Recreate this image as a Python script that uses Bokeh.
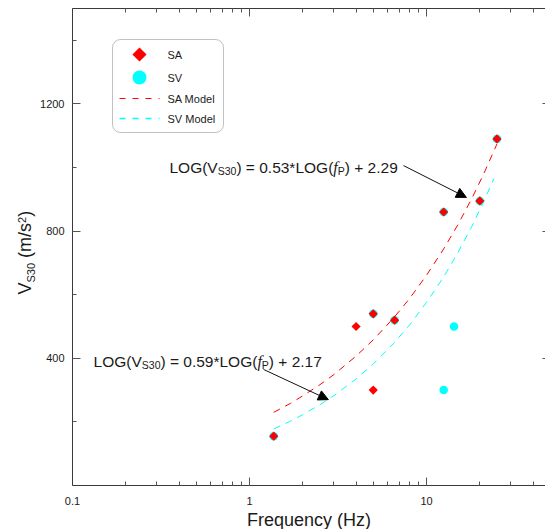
import math
from bokeh.plotting import figure
from bokeh.layouts import row
from bokeh.models import (Range1d, LinearScale, FixedTicker, LogAxis, LinearAxis, Label,
                          Arrow, NormalHead, BoxAnnotation)
from bokeh.embed import file_html
from bokeh.resources import INLINE

# ---------------- data ----------------
sa_freq = [1.37, 4.0, 5.0, 5.0, 6.6, 12.5, 20.0, 25.0]
sa_vs30 = [155, 500, 540, 300, 520, 860, 895, 1090]
sv_freq = [1.37, 5.0, 6.6, 12.5, 12.5, 14.3, 20.0, 25.0]
sv_vs30 = [155, 540, 520, 860, 300, 500, 895, 1090]

sa_model_freq = [1.37, 1.7, 2, 2.5, 3, 4, 5, 6.5, 8, 10, 12.5, 15, 18, 21, 25]
sa_model_vs30 = [230, 258, 282, 317, 349, 407, 458, 526, 587, 661, 744, 819, 902, 979, 1074]
sv_model_freq = [1.37, 1.7, 2, 2.5, 3, 4, 5, 6.5, 8, 10, 12.5, 15, 18, 21, 24]
sv_model_vs30 = [178, 202, 223, 254, 283, 335, 382, 446, 504, 576, 656, 731, 814, 892, 965]

x_major = [0.1, 1, 10]
x_tick_labels = ["0.1", "1", "10"]
x_minor = [0.2, 0.3, 0.4, 0.5, 0.6, 0.7, 0.8, 0.9, 2, 3, 4, 5, 6, 7, 8, 9, 20, 30, 40]
y_major = [400, 800, 1200]
y_minor = [200, 600, 1000, 1400]

legend_names = ["SA", "SV", "SA Model", "SV Model"]

# ---------------- styling ----------------
FONT = "Liberation Sans"
SERIF = "Liberation Serif"
RED = "#ff0000"
CYAN = "#00ffff"
AXC = "#3a3a3a"
TXT = "#1a1a1a"

TW = 36               # width of the strip holding the y-axis title
FW, FH = 473, 477     # plotting frame
TOTAL_H = 529

p = figure(x_axis_type="log", x_range=Range1d(0.1, 47), y_range=Range1d(0, 1500),
           frame_width=FW, frame_height=FH, output_backend="svg", toolbar_location=None,
           min_border_left=72 - TW, min_border_right=0, min_border_top=8, min_border_bottom=44,
           background_fill_color="white", border_fill_color="white", outline_line_color=None)
p.xgrid.visible = False
p.ygrid.visible = False

# pixel-like coordinate system over the frame (for the legend)
p.extra_x_ranges = {"px": Range1d(0, FW)}
p.extra_y_ranges = {"py": Range1d(0, FH)}
p.extra_x_scales = {"px": LinearScale()}
p.extra_y_scales = {"py": LinearScale()}

xt = FixedTicker(ticks=x_major, minor_ticks=x_minor)
yt = FixedTicker(ticks=y_major, minor_ticks=y_minor)


def style_axis(ax, tick_in=8, minor_in=4, labels=True):
    ax.axis_line_color = AXC
    ax.axis_line_width = 1
    ax.major_tick_in = tick_in
    ax.major_tick_out = 0
    ax.minor_tick_in = minor_in
    ax.minor_tick_out = 0
    ax.major_tick_line_color = "#555555"
    ax.minor_tick_line_color = "#555555"
    ax.major_label_text_font = FONT
    ax.major_label_text_color = TXT
    if labels:
        ax.major_label_text_font_size = "11px"
        ax.major_label_standoff = 8
    else:
        ax.major_label_text_font_size = "0px"
        ax.major_label_standoff = 0


xa = p.xaxis[0]
xa.ticker = xt
xa.major_label_overrides = {v: s for v, s in zip(x_major, x_tick_labels)}
style_axis(xa)
xa.major_label_standoff = 11
xa.axis_label = "Frequency (Hz)"
xa.axis_label_text_font = FONT
xa.axis_label_text_font_size = "18px"
xa.axis_label_text_font_style = "normal"
xa.axis_label_text_color = TXT
xa.axis_label_standoff = 2

ya = p.yaxis[0]
ya.ticker = yt
style_axis(ya)

top = LogAxis(ticker=xt)
style_axis(top, labels=False)
top.major_label_overrides = {v: "" for v in x_major}
p.add_layout(top, "above")

right = LinearAxis(ticker=yt)
style_axis(right, tick_in=3, minor_in=0, labels=False)
right.major_label_overrides = {v: "" for v in y_major}
right.axis_line_color = None
p.add_layout(right, "right")

# ---------------- data glyphs ----------------
p.line(sa_model_freq, sa_model_vs30, line_color=RED, line_width=1, line_dash="7 6")
p.line(sv_model_freq, sv_model_vs30, line_color=CYAN, line_width=1, line_dash="7 6")
p.scatter(sv_freq, sv_vs30, marker="circle", size=8.5, fill_color=CYAN, line_color=None)
p.scatter(sa_freq, sa_vs30, marker="square", angle=math.pi / 4, size=6.5,
          fill_color=RED, line_color=None)

# ---------------- helpers for composed text ----------------
W = {' ': 278, '(': 333, ')': 333, '*': 389, '+': 584, '.': 278, '/': 278, '=': 584,
     'A': 667, 'G': 778, 'H': 722, 'L': 556, 'M': 833, 'O': 778, 'P': 667, 'S': 667,
     'V': 667, 'd': 556, 'e': 556, 'l': 222, 'm': 833, 'o': 556, 's': 500, 'f': 278}
for d in "0123456789":
    W[d] = 556


def tw(s, size):
    return sum(W[c] for c in s) * size / 1000.0


def compose(x, y, pieces):
    """pieces: (text, size, dy, font, style)"""
    off = 0.0
    for text, size, dy, font, fstyle in pieces:
        lead = len(text) - len(text.lstrip(" "))
        off += tw(" " * lead, size)
        body = text.lstrip(" ")
        p.add_layout(Label(x=x, y=y, x_offset=off, y_offset=dy, text=body,
                           text_font=font, text_font_size=f"{size}px", text_font_style=fstyle,
                           text_color=TXT, text_align="left", text_baseline="alphabetic"))
        off += tw(body, size)


MS, SS = 15.5, 10.5


def eq_pieces(slope, icpt):
    return [("LOG(V", MS, 0, FONT, "normal"),
            ("S30", SS, -4, FONT, "normal"),
            (f") = {slope}*LOG(", MS, 0, FONT, "normal"),
            ("f", 16, 0, SERIF, "italic"),
            ("P", SS, -4, FONT, "normal"),
            (f") + {icpt}", MS, 0, FONT, "normal")]


compose(0.353, 1001, eq_pieces("0.53", "2.29"))
compose(0.1315, 390, eq_pieces("0.59", "2.17"))

p.add_layout(Arrow(end=NormalHead(size=10, fill_color="black", line_color="black", line_width=1),
                   x_start=7.41, y_start=1006, x_end=16.8, y_end=906,
                   line_color="#111111", line_width=1))
p.add_layout(Arrow(end=NormalHead(size=10, fill_color="black", line_color="black", line_width=1),
                   x_start=1.2, y_start=365, x_end=2.79, y_end=270,
                   line_color="#111111", line_width=1))

# ---------------- legend (drawn in frame pixel space) ----------------
p.add_layout(BoxAnnotation(left=40, right=151, bottom=353, top=446,
                           x_range_name="px", y_range_name="py",
                           fill_color="white", fill_alpha=1, line_color="#333333",
                           line_width=1, border_radius=8, level="underlay"))
rows = [431, 408, 387, 367]
p.scatter([67], [rows[0]], marker="square", angle=math.pi / 4, size=10, fill_color=RED,
          line_color=None, x_range_name="px", y_range_name="py")
p.scatter([67], [rows[1]], marker="circle", size=14, fill_color=CYAN,
          line_color=None, x_range_name="px", y_range_name="py")
p.line([47, 87], [rows[2], rows[2]], line_color=RED, line_width=1, line_dash="6 7",
       x_range_name="px", y_range_name="py")
p.line([47, 87], [rows[3], rows[3]], line_color=CYAN, line_width=1.5, line_dash="6 7",
       x_range_name="px", y_range_name="py")
for name, ry in zip(legend_names, rows):
    p.add_layout(Label(x=95, y=ry, text=name, x_range_name="px", y_range_name="py",
                       text_font=FONT, text_font_size="11px", text_color=TXT,
                       text_align="left", text_baseline="middle"))

# ---------------- y axis title strip (rotated, composed text) ----------------
t = figure(x_range=Range1d(0, TW), y_range=Range1d(0, TOTAL_H),
           frame_width=TW, frame_height=TOTAL_H, min_border=0,
           x_axis_location=None, y_axis_location=None,
           output_backend="svg", toolbar_location=None,
           background_fill_color="white", border_fill_color="white", outline_line_color=None)
t.xgrid.visible = False
t.ygrid.visible = False

yt_pieces = [("V", 18, 0), ("S30", 11, 5.5), (" (m/s", 18, 0), ("2", 11, -3.5), (")", 18, 0)]
ycur = TOTAL_H - 286.0
for text, size, dx in yt_pieces:
    lead = len(text) - len(text.lstrip(" "))
    ycur += tw(" " * lead, size)
    body = text.lstrip(" ")
    t.add_layout(Label(x=24.5 + dx, y=ycur, text=body, angle=math.pi / 2,
                       text_font=FONT, text_font_size=f"{size}px", text_color=TXT,
                       text_align="left", text_baseline="alphabetic"))
    ycur += tw(body, size)

layout = row(t, p, spacing=0)
open("out.html", "w").write(file_html(layout, INLINE))
